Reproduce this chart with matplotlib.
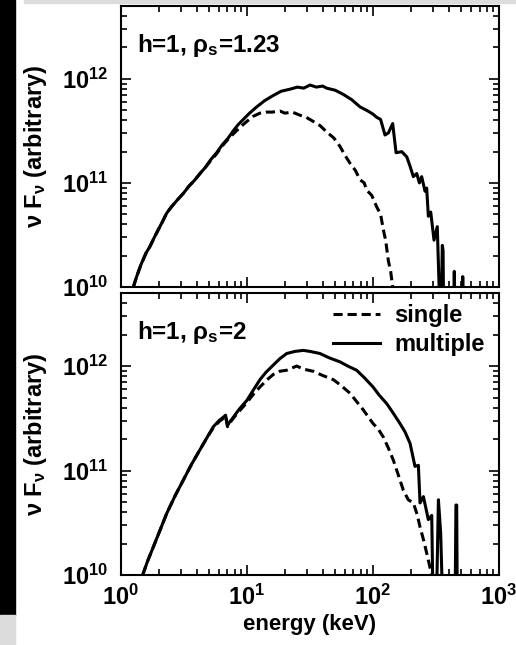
import numpy as np
import matplotlib
matplotlib.use('Agg')
import matplotlib.pyplot as plt
from matplotlib.patches import Rectangle
from matplotlib.ticker import LogLocator, NullFormatter

plt.rcParams['font.family'] = ['Liberation Sans', 'DejaVu Sans']
plt.rcParams['font.weight'] = 'bold'
plt.rcParams['mathtext.fontset'] = 'custom'
plt.rcParams['mathtext.rm'] = 'Liberation Sans:bold'
plt.rcParams['mathtext.it'] = 'Liberation Sans:bold'
plt.rcParams['mathtext.bf'] = 'Liberation Sans:bold'

# values, as log10(energy / keV) and log10(nu F_nu)
# top panel, h=1, rho_s=1.23
top_multi_logE = [0.098, 0.124, 0.16, 0.2, 0.23, 0.27, 0.3, 0.33, 0.363, 0.4, 0.45, 0.495,
                  0.54, 0.58, 0.627, 0.67, 0.71, 0.759, 0.8, 0.85, 0.891, 0.93, 0.971, 1.02,
                  1.077, 1.14, 1.209, 1.27, 1.341, 1.4, 1.45, 1.5, 1.55, 1.6, 1.632, 1.7,
                  1.764, 1.83, 1.897, 1.96, 2.0, 2.029, 2.06, 2.095, 2.122, 2.156, 2.183,
                  2.228, 2.268, 2.294, 2.32, 2.347, 2.368, 2.386, 2.413, 2.426, 2.439, 2.458,
                  2.484, 2.51, 2.537, 2.55, 2.556, 2.562, 2.575, 2.635, 2.645, 2.655, 2.705,
                  2.712, 2.72]
top_multi_logF = [10.0, 10.1, 10.22, 10.33, 10.39, 10.49, 10.56, 10.63, 10.71, 10.77, 10.84, 10.9,
                  10.97, 11.02, 11.09, 11.15, 11.22, 11.29, 11.36, 11.43, 11.5, 11.56, 11.61, 11.67,
                  11.73, 11.79, 11.84, 11.88, 11.9, 11.92, 11.91, 11.94, 11.92, 11.93, 11.91, 11.89,
                  11.85, 11.8, 11.73, 11.69, 11.66, 11.63, 11.61, 11.46, 11.48, 11.57, 11.29,
                  11.3, 11.25, 11.16, 11.06, 11.09, 11.0, 11.06, 10.92, 10.95, 10.68, 10.72,
                  10.45, 10.58, 9.5, 10.4, 10.35, 9.5, 9.5, 9.5, 10.15, 9.5, 9.5,
                  10.1, 9.5]

top_single_logE = [0.098, 0.124, 0.16, 0.2, 0.23, 0.27, 0.3, 0.33, 0.363, 0.4, 0.45, 0.495,
                   0.54, 0.58, 0.627, 0.67, 0.71, 0.759, 0.8, 0.85, 0.891, 0.95, 0.998, 1.05,
                   1.103, 1.15, 1.2, 1.262, 1.3, 1.36, 1.42, 1.47, 1.526, 1.58, 1.632, 1.69,
                   1.738, 1.78, 1.817, 1.86, 1.897, 1.93, 1.95, 1.99, 2.029, 2.06, 2.082, 2.1,
                   2.122, 2.14, 2.156, 2.18]
top_single_logF = [10.0, 10.1, 10.22, 10.33, 10.39, 10.49, 10.56, 10.63, 10.71, 10.77, 10.84, 10.9,
                   10.97, 11.02, 11.09, 11.15, 11.21, 11.28, 11.35, 11.42, 11.47, 11.54, 11.59, 11.64,
                   11.67, 11.68, 11.68, 11.69, 11.67, 11.68, 11.65, 11.63, 11.59, 11.55, 11.49, 11.43,
                   11.35, 11.26, 11.19, 11.12, 11.03, 11.0, 10.93, 10.88, 10.77, 10.7, 10.55, 10.45,
                   10.25, 10.15, 10.0, 9.8]

# bottom panel, h=1, rho_s=2
bot_multi_logE = [0.172, 0.21, 0.257, 0.31, 0.363, 0.43, 0.495, 0.56, 0.627, 0.68, 0.733, 0.78,
                  0.812, 0.83, 0.845, 0.86, 0.891, 0.94, 0.998, 1.05, 1.103, 1.15, 1.209, 1.26,
                  1.315, 1.38, 1.447, 1.5, 1.579, 1.65, 1.738, 1.8, 1.87, 1.93, 2.0, 2.05,
                  2.109, 2.16, 2.214, 2.254, 2.294, 2.333, 2.36, 2.373, 2.4, 2.439, 2.466, 2.479,
                  2.5, 2.519, 2.537, 2.558, 2.65, 2.658, 2.664, 2.67, 2.72]
bot_multi_logF = [10.0, 10.13, 10.27, 10.43, 10.59, 10.76, 10.91, 11.06, 11.2, 11.31, 11.42, 11.48,
                  11.51, 11.53, 11.43, 11.46, 11.51, 11.59, 11.67, 11.77, 11.87, 11.94, 12.01, 12.07,
                  12.12, 12.14, 12.15, 12.14, 12.12, 12.08, 12.04, 12.0, 11.96, 11.89, 11.8, 11.72,
                  11.64, 11.55, 11.45, 11.37, 11.26, 11.04, 11.05, 10.69, 10.75, 10.53, 10.57, 9.5,
                  9.5, 10.72, 10.4, 9.5, 9.5, 10.67, 10.67, 9.5, 9.5]

bot_single_logE = [0.172, 0.21, 0.257, 0.31, 0.363, 0.43, 0.495, 0.56, 0.627, 0.68, 0.733, 0.78,
                   0.812, 0.83, 0.845, 0.86, 0.891, 0.94, 0.998, 1.05, 1.103, 1.16, 1.209, 1.26,
                   1.315, 1.394, 1.45, 1.526, 1.6, 1.685, 1.75, 1.817, 1.87, 1.923, 2.0, 2.04,
                   2.082, 2.12, 2.161, 2.2, 2.241, 2.28, 2.32, 2.35, 2.373, 2.4, 2.426, 2.466,
                   2.49]
bot_single_logF = [10.0, 10.13, 10.27, 10.43, 10.59, 10.76, 10.91, 11.06, 11.2, 11.31, 11.41, 11.47,
                   11.5, 11.52, 11.42, 11.45, 11.5, 11.57, 11.65, 11.73, 11.8, 11.87, 11.92, 11.95,
                   11.96, 12.0, 11.97, 11.95, 11.91, 11.87, 11.81, 11.74, 11.66, 11.58, 11.45, 11.4,
                   11.32, 11.22, 11.1, 10.96, 10.81, 10.72, 10.69, 10.58, 10.46, 10.34, 10.21, 10.0,
                   9.85]

panels = [
    (top_single_logE, top_single_logF, top_multi_logE, top_multi_logF, r'h=1, $\rho_s$=1.23'),
    (bot_single_logE, bot_single_logF, bot_multi_logE, bot_multi_logF, r'h=1, $\rho_s$=2'),
]

fig = plt.figure(figsize=(5.16, 6.45), dpi=100)

# screenshot border: black band at left, grey strips
fig.patches.append(Rectangle((0, 0.0465), 0.029, 0.9535, transform=fig.transFigure,
                             color='black', zorder=-10))
fig.patches.append(Rectangle((0, 0), 0.029, 0.0465, transform=fig.transFigure,
                             color='#dcdcdc', zorder=-10))
fig.patches.append(Rectangle((0.0465, 0.9953), 0.9535, 0.0047, transform=fig.transFigure,
                             color='#dcdcdc', zorder=-10))

ax_top = fig.add_axes([0.2345, 0.555, 0.7326, 0.4357])
ax_bot = fig.add_axes([0.2345, 0.1085, 0.7326, 0.4372])

for ax, (sE, sF, mE, mF, label) in zip([ax_top, ax_bot], panels):
    ax.plot(10 ** np.array(sE), 10 ** np.array(sF), color='black', lw=2.2,
            ls=(0, (3.0, 1.6)), label='single')
    ax.plot(10 ** np.array(mE), 10 ** np.array(mF), color='black', lw=2.2,
            label='multiple')
    ax.set_xscale('log')
    ax.set_yscale('log')
    ax.set_xlim(1, 1000)
    ax.set_ylim(1e10, 5e12)
    ax.yaxis.set_major_locator(LogLocator(base=10, numticks=10))
    ax.yaxis.set_minor_locator(LogLocator(base=10, subs=np.arange(2, 10), numticks=20))
    ax.yaxis.set_minor_formatter(NullFormatter())
    ax.xaxis.set_minor_formatter(NullFormatter())
    for sp in ax.spines.values():
        sp.set_linewidth(1.5)
    ax.tick_params(which='both', direction='in', top=True, right=True, width=1.2,
                   labelsize=17)
    ax.tick_params(axis='y', pad=9)
    ax.tick_params(axis='x', pad=7)
    ax.tick_params(which='major', length=7)
    ax.tick_params(which='minor', length=4)
    ax.set_ylabel(r'$\nu$ F$_\nu$ (arbitrary)', fontsize=17, fontweight='bold')
    ax.yaxis.set_label_coords(-0.19, 0.5)
    ax.text(0.042, 0.86, label, transform=ax.transAxes,
            fontsize=17.5, fontweight='bold', va='center', ha='left')

ax_top.tick_params(labelbottom=False)
ax_bot.set_xlabel('energy (keV)', fontsize=16, fontweight='bold', labelpad=3)
ax_bot.legend(loc='upper left', bbox_to_anchor=(0.561, 0.96), frameon=False,
              handlelength=2.0, handletextpad=0.6, labelspacing=0.25,
              borderpad=0, borderaxespad=0, prop={'weight': 'bold', 'size': 17})

fig.savefig('out.png', dpi=100)
